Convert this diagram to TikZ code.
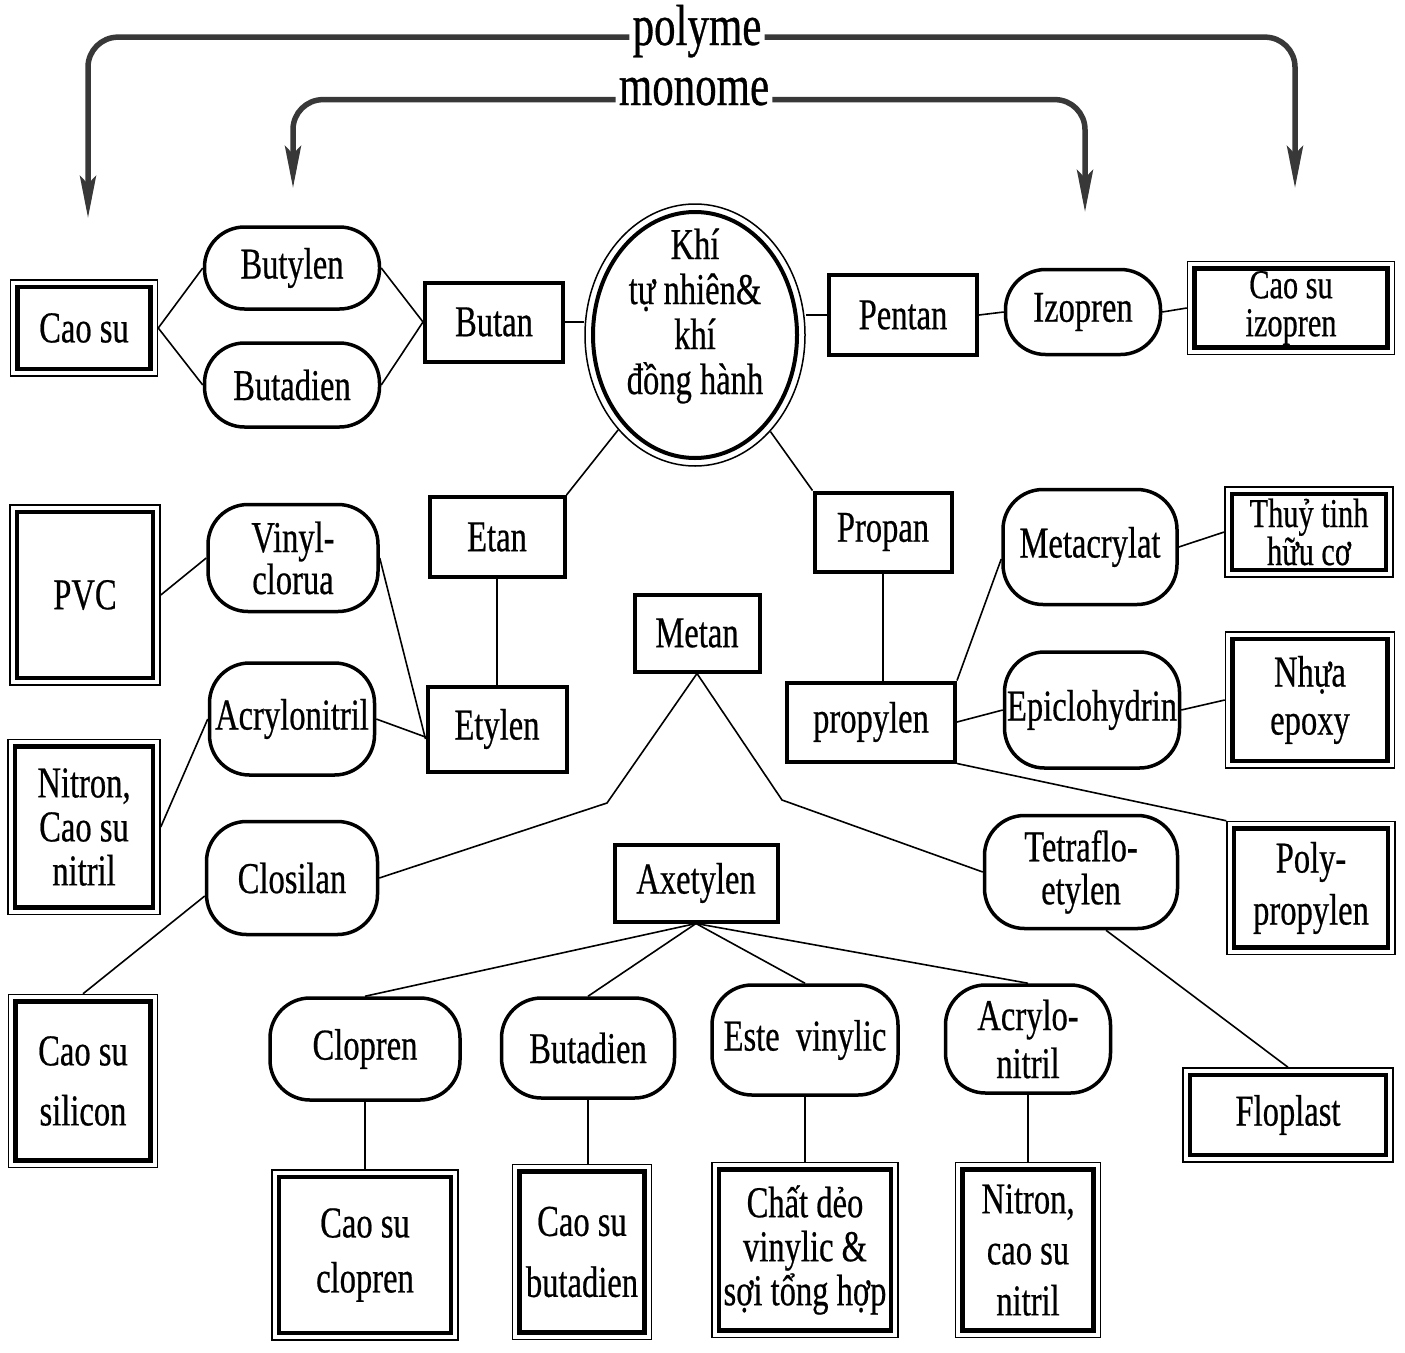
\documentclass[tikz,border=0pt]{standalone}
\usepackage{fontspec}
\setmainfont[FakeStretch=0.74,FakeBold=0.5]{Liberation Serif}
\usetikzlibrary{arrows.meta,shapes.geometric}
\newcommand\myfs[1]{\fontsize{44}{#1}\selectfont}
\begin{document}
\begin{tikzpicture}[x=1pt,y=-1pt,
  base/.style={inner sep=2pt, align=center, font=\myfs{45}},
  sz/.style 2 args={minimum width=#1pt, minimum height=#2pt},
  rbox/.style={base, draw, line width=4pt, rectangle},
  stad/.style={base, draw, line width=3.5pt, rounded corners=40pt},
  dbox/.style={base, draw, line width=1.5pt,
    path picture={\draw[line width=4.5pt]
      ([shift={(7pt,7pt)}]path picture bounding box.south west) rectangle
      ([shift={(-7pt,-7pt)}]path picture bounding box.north east);}},
  conn/.style={line width=1.6pt},
  big/.style={line width=5.5pt, draw=black!78, rounded corners=30pt,
    -{Stealth[length=42pt,width=16pt,inset=8pt]}},
  ttl/.style={inner sep=3pt, font=\fontsize{58}{60}\selectfont, anchor=base}
]
\useasboundingbox (0,0) rectangle (1405,1352);

% titles
\node[ttl] (poly) at (697,45) {polyme};
\node[ttl] (mono) at (694,105) {monome};
\coordinate (pL) at (88,218);
\coordinate (pR) at (1295,188);
\coordinate (mL) at (293,188);
\coordinate (mR) at (1085,212);
\draw[big] ([yshift=-6pt]poly.west) -| (pL);
\draw[big] ([yshift=-6pt]poly.east) -| (pR);
\draw[big] ([yshift=-8pt]mono.west) -| (mL);
\draw[big] ([yshift=-8pt]mono.east) -| (mR);

% row 1
\node[dbox, sz={147}{96}] (cao) at (84,328) {Cao su};
\node[stad, sz={175}{82}] (butylen) at (292,268) {Butylen};
\node[stad, sz={175}{84}] (butadien) at (292,385) {Butadien};
\node[rbox, sz={138}{79}] (butan) at (494,322) {Butan};
\node[ellipse, draw, line width=1.5pt, minimum width=220pt, minimum height=262pt,
      inner sep=0pt] (khi) at (695,335) {};
\draw[line width=4pt] (khi.center) ellipse [x radius=102pt, y radius=123pt];
\node[base] (khit) at (695,316) {Khí\\tự nhiên\&\\khí\\đồng hành};
\node[rbox, sz={148}{80}] (pentan) at (903,315) {Pentan};
\node[stad, sz={155}{85}] (izo) at (1083,312) {Izopren};
\node[dbox, sz={207}{93}, font=\fontsize{41}{38}\selectfont] (caoiz) at (1291,308) {Cao su\\izopren};

% row 2
\node[dbox, sz={150}{180}] (pvc) at (85,595) {PVC};
\node[stad, sz={170}{107}, font=\myfs{42}] (vinyl) at (293,558) {Vinyl-\\clorua};
\node[rbox, sz={135}{80}] (etan) at (497,537) {Etan};
\node[rbox, sz={137}{79}] (propan) at (883,532) {Propan};
\node[stad, sz={174}{115}] (metacr) at (1090,547) {Metacrylat};
\node[dbox, sz={168}{90}, font=\fontsize{41}{38}\selectfont] (thuy) at (1309,532) {Thuỷ tinh\\hữu cơ};
\node[rbox, sz={125}{77}] (metan) at (697,633) {Metan};
\node[stad, sz={165}{112}] (acryl) at (292,719) {Acrylonitril};
\node[rbox, sz={139}{85}] (etylen) at (497,729) {Etylen};
\node[rbox, sz={168}{79}] (propylen) at (871,722) {propylen};
\node[stad, sz={175}{116}] (epi) at (1092,710) {Epiclohydrin};
\node[dbox, sz={169}{136}, font=\myfs{48}] (nhua) at (1310,700) {Nhựa\\epoxy};
\node[dbox, sz={152}{175}, font=\myfs{44}] (nitron1) at (84,827) {Nitron,\\Cao su\\nitril};
\node[stad, sz={171}{113}] (closilan) at (292,878) {Closilan};
\node[rbox, sz={163}{77}] (axet) at (696,883) {Axetylen};
\node[stad, sz={193}{113}, font=\myfs{43}] (tetra) at (1081,872) {Tetraflo-\\etylen};
\node[dbox, sz={168}{133}, font=\myfs{52}] (polyp) at (1311,888) {Poly-\\propylen};

% bottom
\node[dbox, sz={149}{173}, font=\myfs{60}] (silicon) at (83,1081) {Cao su\\silicon};
\node[stad, sz={190}{102}] (clopren) at (365,1049) {Clopren};
\node[stad, sz={173}{100}] (bd2) at (588,1048) {Butadien};
\node[stad, sz={186}{110}] (este) at (805,1040) {Este\ \ vinylic};
\node[stad, sz={165}{108}, font=\myfs{48}] (acrylo) at (1028,1039) {Acrylo-\\nitril};
\node[dbox, sz={210}{94}] (floplast) at (1288,1115) {Floplast};
\node[dbox, sz={186}{170}, font=\myfs{55}] (caoclo) at (365,1255) {Cao su\\clopren};
\node[dbox, sz={139}{175}, font=\myfs{61}] (caobd) at (582,1252) {Cao su\\butadien};
\node[dbox, sz={186}{175}, font=\myfs{44}] (chat) at (805,1250) {Chất dẻo\\vinylic \&\\sợi tổng hợp};
\node[dbox, sz={145}{175}, font=\myfs{51}] (nitron2) at (1028,1250) {Nitron,\\cao su\\nitril};

% connectors
\coordinate (bendL) at (607,803);
\coordinate (bendR) at (782,800);
\draw[conn] (cao.east) -- (butylen.west);
\draw[conn] (cao.east) -- (butadien.west);
\draw[conn] (butylen.east) -- (butan.west);
\draw[conn] (butadien.east) -- (butan.west);
\draw[conn] (butan.east) -- (butan.east -| khi.west);
\draw[conn] (khi.east |- pentan.west) -- (pentan.west);
\draw[conn] (pentan.east) -- (izo.west);
\draw[conn] (izo.east) -- (caoiz.west);
\draw[conn] (khi.231) -- (etan.north east);
\draw[conn] (khi.308) -- (propan.north west);
\draw[conn] (etan.south) -- (etylen.north);
\draw[conn] (pvc.east) -- (vinyl.west);
\draw[conn] (vinyl.east) -- ([yshift=-10pt]etylen.west);
\draw[conn] (acryl.east) -- ([yshift=-8pt]etylen.west);
\draw[conn] (nitron1.east) -- (acryl.west);
\draw[conn] ([yshift=-18pt]closilan.west) -- (silicon.north);
\draw[conn] (closilan.east) -- (bendL) -- (metan.south);
\draw[conn] (metan.south) -- (bendR) -- (tetra.west);
\foreach \t in {clopren,bd2,este,acrylo} \draw[conn] (axet.south) -- (\t.north);
\draw[conn] (propan.south) -- (propan.south |- propylen.north);
\draw[conn] (propylen.north east) -- ([yshift=-12pt]metacr.west);
\draw[conn] (propylen.east) -- (epi.west);
\draw[conn] (propylen.south east) -- (polyp.north west);
\draw[conn] (metacr.east) -- (thuy.west);
\draw[conn] (epi.east) -- (nhua.west);
\draw[conn] ([xshift=25pt]tetra.south) -- (floplast.north);
\draw[conn] (clopren.south) -- (caoclo.north);
\draw[conn] (bd2.south) -- (bd2.south |- caobd.north);
\draw[conn] (este.south) -- (chat.north);
\draw[conn] (acrylo.south) -- (nitron2.north);
\end{tikzpicture}
\end{document}
